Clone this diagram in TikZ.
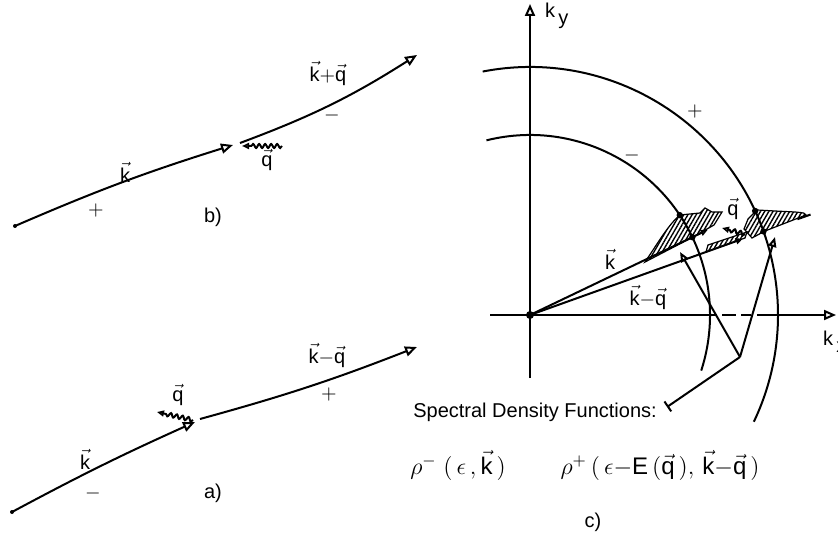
\documentclass[tikz,border=0pt]{standalone}
\usepackage{fontspec}
\setmainfont{Liberation Sans}
\usetikzlibrary{arrows.meta,decorations.pathmorphing,patterns.meta}

\newcommand{\vk}{\vec{\mbox{k}}}
\newcommand{\vq}{\vec{\mbox{q}}}

\tikzset{
    opentri/.style={-{Triangle[open,length=6pt,width=5pt]}},
    midtri/.style={-{Triangle[open,length=5pt,width=4pt]}},
    smalltri/.style={-{Triangle[open,length=3.5pt,width=3pt]}},
    phonon/.style={decorate,decoration={snake,amplitude=1pt,segment length=3pt,post length=3.5pt}},
    hatched/.style={pattern={Lines[angle=60,distance=1.8pt,line width=0.7pt]},line width=0.6pt},
    lbl/.style={font=\fontsize{10}{12}\selectfont,inner sep=1pt},
    formula/.style={font=\fontsize{12}{14}\selectfont,inner sep=1pt},
}

\begin{document}
\begin{tikzpicture}[x=0.5pt,y=0.5pt,line width=1pt]
    \useasboundingbox (0,0) rectangle (838,535);

    % b) absorption of q
    \coordinate (b0) at (15,309);
    \coordinate (bk) at (233,390);
    \coordinate (bv) at (240,392);
    \coordinate (b1) at (417,480);
    \coordinate (bq0) at (282,389);
    \coordinate (bq1) at (242,389);
    \fill (b0) circle (1pt);
    \draw[opentri] (b0) to[bend left=3] (bk);
    \draw[opentri] (bv) to[bend right=6] (b1);
    \draw[phonon,smalltri] (bq0) -- (bq1);
    \node[lbl] (bkq) at (328,462) {$\vk{+}\vq$};
    \node[lbl] (bminus) at (332,419) {$-$};
    \node[lbl] (bkin) at (125,363) {$\vk$};
    \node[lbl] (bplus) at (96,324) {$+$};
    \node[lbl] (bq) at (267,375) {$\vq$};
    \node[lbl] (labb) at (213,318) {b)};

    % a) emission of q
    \coordinate (a0) at (12,23);
    \coordinate (ak) at (195,113);
    \coordinate (av) at (200,116);
    \coordinate (a1) at (417,188);
    \coordinate (aq0) at (193,115);
    \coordinate (aq1) at (157,123);
    \fill (a0) circle (1pt);
    \draw[opentri] (a0) to[bend left=2] (ak);
    \draw[opentri] (av) to[bend right=3] (a1);
    \draw[phonon,smalltri] (aq0) -- (aq1);
    \node[lbl] (akq) at (327,180) {$\vk{-}\vq$};
    \node[lbl] (aplus) at (329,141) {$+$};
    \node[lbl] (akin) at (85,76) {$\vk$};
    \node[lbl] (aminus) at (93,42) {$-$};
    \node[lbl] (aq) at (178,140) {$\vq$};
    \node[lbl] (laba) at (213,42) {a)};

    % c) k-space
    \coordinate (O) at (530,220);
    \coordinate (kyb) at (530,157);
    \coordinate (kyt) at (530,531);
    \coordinate (kxl) at (490,220);
    \coordinate (kxr) at (836,220);
    % hatched regions
    \draw[hatched] (645,273) .. controls (658,292) and (668,310) .. (680,320) -- (700,322) -- (705,327) -- (712,323) -- (722,323) -- (714,310) -- (693,298) -- cycle;
    \draw[hatched] (757,325) -- (775,324) -- (795,323) .. controls (805,322) .. (806,320) -- (765,304) -- (752,297) -- (744,306) -- (748,316) -- cycle;
    \draw[hatched] (706,283) -- (745,297) -- (747,303) -- (708,290) -- cycle;
    % axes
    \draw[opentri] (kyb) -- (kyt);
    \draw (kxl) -- (717,220);
    \draw (722,220) -- (736,220);
    \draw (741,220) -- (751,220);
    \draw[opentri] (757,220) -- (kxr);
    \node[lbl,anchor=west] (ky) at (542,519) {k\,\raisebox{-.7ex}{y}};
    \node[lbl,anchor=west] (kx) at (820,193) {k\,\raisebox{-.7ex}{x}};
    % energy surfaces
    \draw (O) ++(104:180) arc[start angle=104,end angle=-18,radius=180];
    \draw (O) ++(101:248) arc[start angle=101,end angle=-25.5,radius=248];
    \node[lbl] (cminus) at (632,379) {$-$};
    \node[lbl] (cplus) at (695,423) {$+$};
    % vectors
    \draw[smalltri] (O) -- +(25.6:197);
    \draw[smalltri] (O) -- +(19.7:226);
    \draw (O) ++(19.7:284) -- +(19.7:14);
    \draw[phonon,smalltri] (745,301) -- (722,307);
    \node[lbl] (ck) at (610,276) {$\vk$};
    \node[lbl] (ckq) at (648,238) {$\vk{-}\vq$};
    \node[lbl] (cq) at (733,326) {$\vq$};
    \fill (O) circle (2pt);
    \foreach \a/\r in {33.7/180,25.6/180,24.8/248,19.7/248}
        \fill (O) ++(\a:\r) circle (1.6pt);

    % pointers to the spectral densities
    \coordinate (J) at (740,178);
    \coordinate (A1) at (680,283);
    \coordinate (A2) at (775,298);
    \coordinate (L) at (667,128);
    \draw[midtri] (J) -- (A1);
    \draw[midtri] (J) -- (A2);
    \draw[-{Bar[width=6pt]}] (J) -- (L);
    \node[lbl] (sdf) at (535,123) {Spectral Density Functions:};
    \node[formula] (rhom) at (458,70) {$\rho^-\ (\,\epsilon\,,\vk\,)$};
    \node[formula] (rhop) at (660,70) {$\rho^+\,(\,\epsilon{-}\mbox{E}\,(\vq\,),\,\vk{-}\vq\,)$};
    \node[lbl] (labc) at (593,13) {c)};
\end{tikzpicture}
\end{document}
